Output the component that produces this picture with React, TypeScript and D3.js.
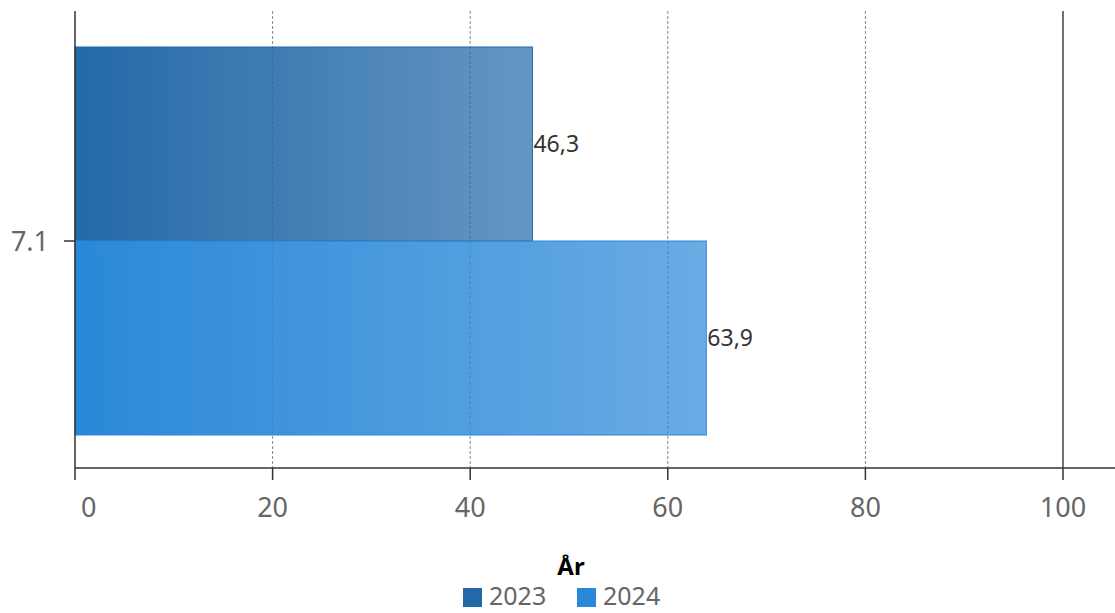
import React from "react";
import * as d3 from "d3";

const categories = ["7.1"];
const seriesNames = ["2023", "2024"];
const values2023 = [46.3];
const values2024 = [63.9];
const xTicks = [0, 20, 40, 60, 80, 100];
const seriesColors = ["#2369a8", "#2a88d8"];
const axisTitle = "År";

const W = 1115;
const H = 613;
const FONT = "'Noto Sans', 'Open Sans', sans-serif";

export default function App() {
  const x = d3.scaleLinear().domain([0, 100]).range([75, 1063]);
  const y = d3.scaleBand().domain(categories).range([47, 435]).padding(0);
  const sub = d3.scaleBand().domain(seriesNames).range([0, y.bandwidth()]);
  const seriesValues = [values2023, values2024];
  const fmt = (v: number) => d3.format(".1f")(v).replace(".", ",");

  return (
    <svg width={W} height={H} style={{ position: "absolute", left: 0, top: 0, fontFamily: FONT }}>
      <defs>
        {seriesColors.map((c, i) => (
          <linearGradient key={i} id={`grad${i}`} x1="0" x2="1" y1="0" y2="0">
            <stop offset="0" stopColor={c} stopOpacity={1} />
            <stop offset="1" stopColor={c} stopOpacity={0.7} />
          </linearGradient>
        ))}
      </defs>
      {/* grid lines */}
      {xTicks.filter((t) => t > 0 && t < 100).map((t) => (
        <line key={t} x1={x(t)} x2={x(t)} y1={11} y2={468} stroke="#888" strokeWidth={1} strokeDasharray="3,2" />
      ))}
      <line x1={x(100)} x2={x(100)} y1={11} y2={468} stroke="#444" strokeWidth={1.5} />
      {/* bars */}
      {categories.map((cat, ci) =>
        seriesNames.map((s, si) => {
          const v = seriesValues[si][ci];
          const y0 = (y(cat) as number) + (sub(s) as number);
          return (
            <g key={cat + s}>
              <rect
                x={x(0)}
                y={y0}
                width={x(v) - x(0)}
                height={sub.bandwidth()}
                fill={`url(#grad${si})`}
                stroke={seriesColors[si]}
                strokeWidth={1}
              />
              <text x={x(v) + 1} y={y0 + sub.bandwidth() / 2 + 8} fontSize={23} fill="#333">
                {fmt(v)}
              </text>
            </g>
          );
        })
      )}
      {/* left axis */}
      <line x1={75} x2={75} y1={11} y2={468} stroke="#333" strokeWidth={1.5} />
      {categories.map((cat) => {
        const cy = (y(cat) as number) + y.bandwidth() / 2;
        return (
          <g key={cat}>
            <line x1={64} x2={75} y1={cy} y2={cy} stroke="#333" strokeWidth={1.5} />
            <text x={49} y={cy + 10} textAnchor="end" fontSize={27} fill="#666">
              {cat}
            </text>
          </g>
        );
      })}
      {/* bottom axis */}
      <line x1={75} x2={W} y1={468} y2={468} stroke="#333" strokeWidth={1.5} />
      {xTicks.map((t) => (
        <g key={t}>
          <line x1={x(t)} x2={x(t)} y1={468} y2={480} stroke="#333" strokeWidth={1.5} />
          <text
            x={t === 0 ? x(t) + 6 : x(t)}
            y={517}
            textAnchor={t === 0 ? "start" : "middle"}
            fontSize={27}
            fill="#666"
          >
            {t}
          </text>
        </g>
      ))}
      {/* title */}
      <text x={571} y={575} textAnchor="middle" fontSize={24} fontWeight="bold" fill="#000">
        {axisTitle}
      </text>
      {/* legend */}
      {seriesNames.map((s, i) => {
        const lx = 463 + i * 114;
        return (
          <g key={s}>
            <rect x={lx} y={588} width={19} height={19} fill={seriesColors[i]} />
            <text x={lx + 26} y={605} fontSize={25} fill="#666">
              {s}
            </text>
          </g>
        );
      })}
    </svg>
  );
}
